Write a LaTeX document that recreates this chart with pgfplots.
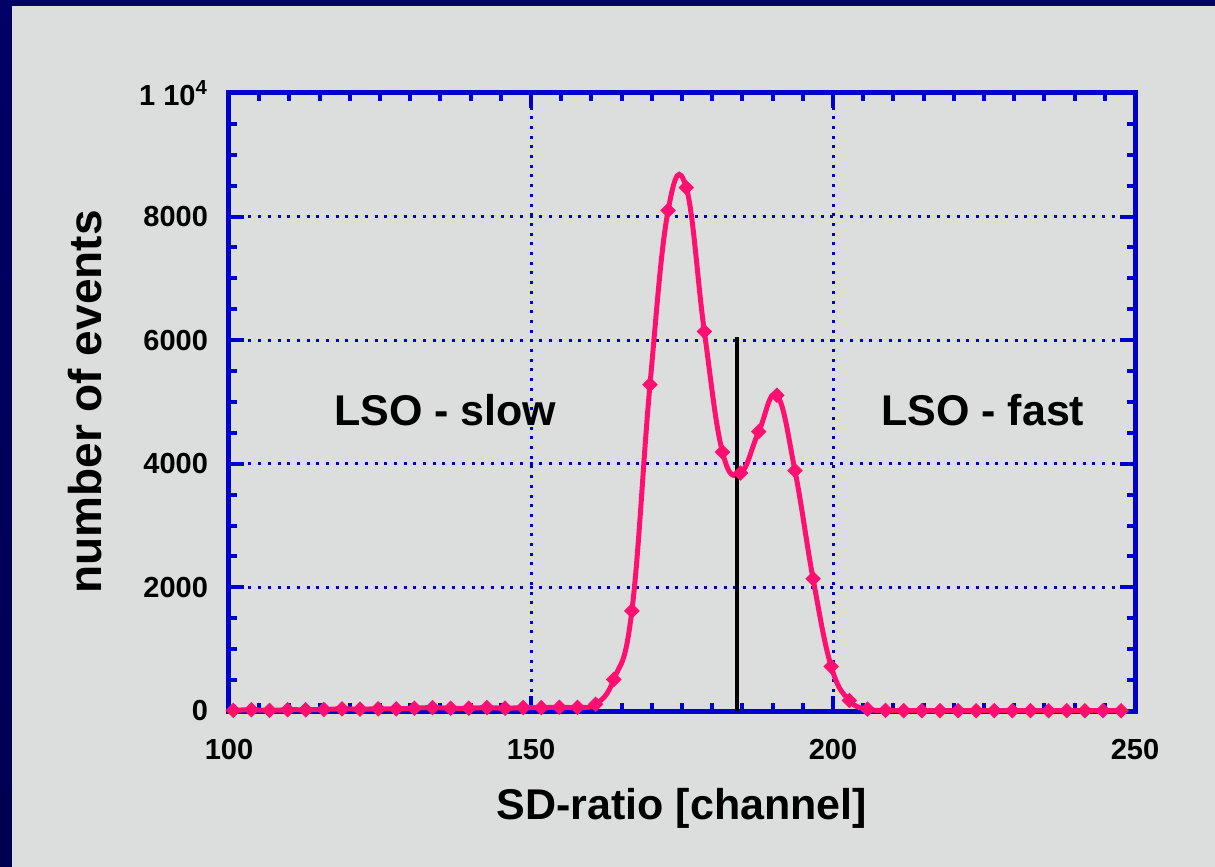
\documentclass[border=0pt]{standalone}
\usepackage{fontspec}
\setmainfont{Liberation Sans}
\usepackage{pgfplots}
\pgfplotsset{compat=1.18}

\definecolor{panel}{RGB}{220,222,221}
\definecolor{navy}{RGB}{0,0,102}
\definecolor{axblue}{RGB}{0,0,205}
\definecolor{lsopink}{RGB}{255,16,112}

\begin{document}
\begin{tikzpicture}
% panel behind the axis (1 px of the reference = 0.5pt)
\fill[panel] (-114.5pt,-78pt) rectangle (493pt,355.5pt);
\shade[top color=navy, bottom color=navy!80!black] (-114.5pt,-78pt) rectangle (-108.5pt,355.5pt);
\fill[navy] (-114.5pt,352.5pt) rectangle (493pt,355.5pt);

\begin{axis}[
	scale only axis,
	width=453pt, height=309pt,
	xmin=100, xmax=250,
	ymin=0, ymax=10000,
	clip=false,
	xtick={100,150,200,250},
	xticklabels={100,150,200,250},
	ytick={0,2000,4000,6000,8000,10000},
	yticklabels={0,2000,4000,6000,8000,{1 10\textsuperscript{4}}},
	scaled ticks=false,
	minor x tick num=9,
	minor y tick num=3,
	tick align=inside,
	major tick length=7.5pt,
	minor tick length=4pt,
	every tick/.style={axblue, line width=2pt},
	axis line style={axblue, line width=2.5pt},
	grid=major,
	major grid style={axblue, line width=1.5pt, dash pattern=on 1.5pt off 3.35pt},
	/pgf/number format/assume math mode=true,
	tick label style={font=\bfseries\fontsize{14.5}{17}\selectfont, black},
	xticklabel style={yshift=-10.5pt},
	yticklabel style={xshift=-7pt},
	xlabel={SD-ratio [channel]},
	ylabel={number of events},
	xlabel style={font=\bfseries\fontsize{21.5}{25}\selectfont, at={(axis description cs:0.5,-0.157)}, anchor=center},
	ylabel style={font=\bfseries\fontsize{23}{27}\selectfont, at={(axis description cs:-0.159,0.5)}, anchor=center},
]
\addplot[lsopink, line width=2.5pt, smooth, tension=0.7,
	mark=square*, mark size=2.5pt,
	mark options={solid, rotate=45, line width=0.5pt, fill=lsopink}] coordinates {
	(100.7,10) (103.7,20) (106.7,10) (109.7,20) (112.7,20) (115.7,25)
	(118.7,35) (121.7,30) (124.7,35) (127.7,35) (130.7,45) (133.7,55)
	(136.7,45) (139.7,45) (142.7,55) (145.7,45) (148.7,55) (151.7,55)
	(154.7,60) (157.7,60) (160.7,110) (163.7,510) (166.7,1620) (169.7,5280)
	(172.7,8100) (175.7,8470) (178.7,6140) (181.7,4190) (184.7,3850) (187.7,4520)
	(190.7,5110) (193.7,3890) (196.7,2140) (199.7,720) (202.7,170) (205.7,30)
	(208.7,10) (211.7,5) (214.7,5) (217.7,5) (220.7,5) (223.7,5)
	(226.7,5) (229.7,5) (232.7,5) (235.7,5) (238.7,5) (241.7,5)
	(244.7,5) (247.7,5)
};
\addplot[black, line width=2pt] coordinates {(184.1,0) (184.1,6050)};

\node[font=\bfseries\fontsize{21.5}{25}\selectfont] at (axis cs:135.8,4870) {LSO - slow};
\node[font=\bfseries\fontsize{21.5}{25}\selectfont] at (axis cs:224.8,4870) {LSO - fast};
\end{axis}

\pgfresetboundingbox
\path (-114.5pt,-78pt) rectangle (493pt,355.5pt);
\end{tikzpicture}
\end{document}
